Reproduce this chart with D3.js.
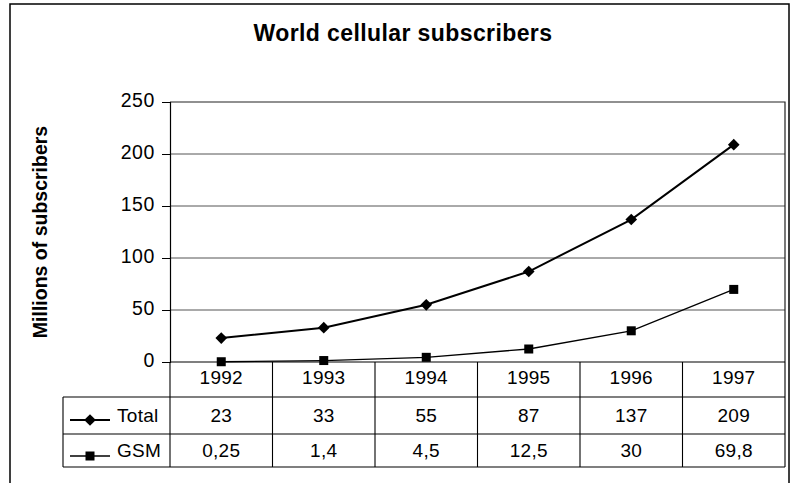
<!DOCTYPE html>
<html>
<head>
<meta charset="utf-8">
<script src="https://cdn.jsdelivr.net/npm/d3@7"></script>
<style>
  html, body { margin: 0; padding: 0; background: #fff; }
  svg { display: block; font-family: "Liberation Sans", Arial, Helvetica, sans-serif; }
</style>
</head>
<body>
<svg id="chart" width="790" height="483"></svg>
<script>
// World cellular subscribers, millions
const years = ["1992", "1993", "1994", "1995", "1996", "1997"];
const totalValues = [23, 33, 55, 87, 137, 209];
const gsmValues = [0.25, 1.4, 4.5, 12.5, 30, 69.8];
const yTicks = [0, 50, 100, 150, 200, 250];
const seriesNames = ["Total", "GSM"];

const svg = d3.select("#chart");

// layout
const plot = { left: 170, right: 785, top: 102, bottom: 362 };
const rowEdges = [362, 397, 434, 467];
const legendLeft = 63;

const x = d3.scaleBand().domain(years).range([plot.left, plot.right]);
const y = d3.scaleLinear().domain([0, 250]).range([plot.bottom, plot.top]);
const cx = d => x(d) + x.bandwidth() / 2;
const decimalComma = v => String(v).replace(".", ",");

// outer frame
svg.append("rect")
  .attr("x", 10).attr("y", 4).attr("width", 779).attr("height", 520)
  .attr("fill", "none").attr("stroke", "#000").attr("stroke-width", 1.5);

// title
svg.append("text")
  .attr("x", 403).attr("y", 41)
  .attr("text-anchor", "middle")
  .attr("font-size", 23).attr("font-weight", "bold")
  .attr("letter-spacing", 0.4)
  .text("World cellular subscribers");

// y axis title
svg.append("text")
  .attr("transform", "translate(47,232) rotate(-90)")
  .attr("text-anchor", "middle")
  .attr("font-size", 19.5).attr("font-weight", "bold")
  .text("Millions of subscribers");

// horizontal gridlines
svg.append("g")
  .selectAll("line")
  .data(yTicks.filter(t => t > 0 && t < 250))
  .join("line")
  .attr("x1", plot.left).attr("x2", plot.right)
  .attr("y1", d => y(d)).attr("y2", d => y(d))
  .attr("stroke", "#555").attr("stroke-width", 1);

// plot area top and right edges
svg.append("path")
  .attr("d", `M${plot.left},${y(250)}H${plot.right}V${plot.bottom}`)
  .attr("fill", "none").attr("stroke", "#222").attr("stroke-width", 1.2);

// y axis
const yAxis = svg.append("g")
  .attr("transform", `translate(${plot.left},0)`)
  .call(d3.axisLeft(y).tickValues(yTicks).tickSize(8).tickPadding(7).tickFormat(d3.format("d")));
yAxis.select(".domain").attr("stroke", "#000").attr("stroke-width", 1.2);
yAxis.selectAll(".tick line").attr("stroke", "#000");
yAxis.selectAll(".tick text")
  .attr("font-family", "Liberation Sans, Arial, sans-serif")
  .attr("font-size", 19.5).attr("fill", "#000")
  .attr("dy", null).attr("y", 4)
  .attr("letter-spacing", 0.6);

// data table grid
const table = svg.append("g").attr("stroke", "#000").attr("stroke-width", 1.1).attr("fill", "none");
table.append("line").attr("x1", plot.left).attr("x2", plot.right).attr("y1", rowEdges[0]).attr("y2", rowEdges[0]);
rowEdges.slice(1).forEach(ry => {
  table.append("line").attr("x1", legendLeft).attr("x2", plot.right).attr("y1", ry).attr("y2", ry);
});
table.append("line").attr("x1", legendLeft).attr("x2", legendLeft).attr("y1", rowEdges[1]).attr("y2", rowEdges[3]);
years.forEach(yr => {
  table.append("line").attr("x1", x(yr)).attr("x2", x(yr)).attr("y1", rowEdges[0]).attr("y2", rowEdges[3]);
});
table.append("line").attr("x1", plot.right).attr("x2", plot.right).attr("y1", rowEdges[0]).attr("y2", rowEdges[3]);

// table text
const cellText = (vals, baseline) => svg.append("g")
  .selectAll("text").data(vals).join("text")
  .attr("x", (d, i) => cx(years[i]))
  .attr("y", baseline)
  .attr("text-anchor", "middle")
  .attr("font-size", 19).attr("letter-spacing", 0.3)
  .text(d => d);
cellText(years, 384);
cellText(totalValues.map(decimalComma), 422);
cellText(gsmValues.map(decimalComma), 457);

// series lines
const line = vals => d3.line().x((d, i) => cx(years[i])).y(d => y(d))(vals);
svg.append("path").attr("d", line(gsmValues))
  .attr("fill", "none").attr("stroke", "#000").attr("stroke-width", 1.3);
svg.append("path").attr("d", line(totalValues))
  .attr("fill", "none").attr("stroke", "#000").attr("stroke-width", 2);

// markers: diamonds for Total, squares for GSM
const diamondPath = d3.symbol().type(d3.symbolSquare).size(68);
svg.append("g").selectAll("path").data(totalValues).join("path")
  .attr("transform", (d, i) => `translate(${cx(years[i])},${y(d)}) rotate(45)`)
  .attr("d", diamondPath)
  .attr("fill", "#000");
svg.append("g").selectAll("rect").data(gsmValues).join("rect")
  .attr("x", (d, i) => cx(years[i]) - 4.5)
  .attr("y", d => y(d) - 4.5)
  .attr("width", 9).attr("height", 9)
  .attr("fill", "#000");

// legend keys inside the table
const keyY = [420, 456];
svg.append("line").attr("x1", 70).attr("x2", 110).attr("y1", keyY[0]).attr("y2", keyY[0])
  .attr("stroke", "#000").attr("stroke-width", 2);
svg.append("path")
  .attr("transform", `translate(90,${keyY[0]}) rotate(45)`)
  .attr("d", diamondPath)
  .attr("fill", "#000");
svg.append("line").attr("x1", 70).attr("x2", 110).attr("y1", keyY[1]).attr("y2", keyY[1])
  .attr("stroke", "#000").attr("stroke-width", 1.3);
svg.append("rect").attr("x", 85.5).attr("y", keyY[1] - 4.5).attr("width", 9).attr("height", 9)
  .attr("fill", "#000");

svg.append("g").selectAll("text").data(seriesNames).join("text")
  .attr("x", 117).attr("y", (d, i) => [422, 457][i])
  .attr("font-size", 19).attr("letter-spacing", 0.3)
  .text(d => d);
</script>
</body>
</html>
